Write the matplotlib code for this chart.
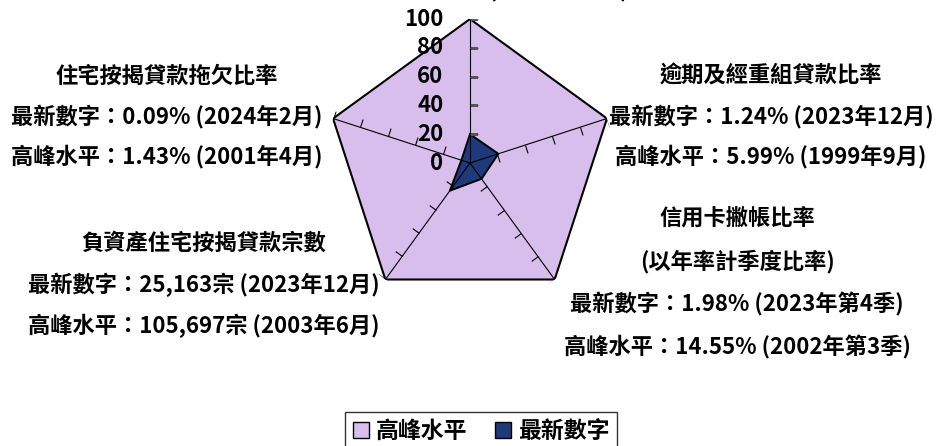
import numpy as np
import matplotlib
matplotlib.use("Agg")
import matplotlib.pyplot as plt
from matplotlib.markers import MarkerStyle
from matplotlib.path import Path
from matplotlib.transforms import Affine2D
from matplotlib.patches import Patch

plt.rcParams['font.family'] = ['Noto Sans CJK TC', 'DejaVu Sans']
plt.rcParams['font.weight'] = 'bold'

# axes clockwise from the top
angles_deg = [0, 72, 144, 216, 288]
peak = [100, 100, 100, 100, 100]
latest = [20.0, 20.7, 13.6, 23.8, 6.3]
rticks = [0, 20, 40, 60, 80, 100]
series_names = ["高峰水平", "最新數字"]
peak_color = "#D8BEEC"
latest_color = "#1F3A7B"

top_label = ["特定分類貸款比率", "高峰水平：10.61% (1999年9月)", "最新數字：2.12% (2023年12月)"]
right_label = ["逾期及經重組貸款比率", "最新數字：1.24% (2023年12月)", "高峰水平：5.99% (1999年9月)"]
brt_label = ["信用卡撇帳比率", "(以年率計季度比率)", "最新數字：1.98% (2023年第4季)", "高峰水平：14.55% (2002年第3季)"]
blf_label = ["負資產住宅按揭貸款宗數", "最新數字：25,163宗 (2023年12月)", "高峰水平：105,697宗 (2003年6月)"]
left_label = ["住宅按揭貸款拖欠比率", "最新數字：0.09% (2024年2月)", "高峰水平：1.43% (2001年4月)"]

W, H = 938, 446
fig = plt.figure(figsize=(W / 100, H / 100), dpi=100)
cx, cy, R = 470, 163, 144
ax = fig.add_axes([(cx - R) / W, (H - cy - R) / H, 2 * R / W, 2 * R / H], projection='polar')
ax.set_theta_offset(np.pi / 2)
ax.set_theta_direction(-1)
ax.set_ylim(0, 100)
ax.grid(False)
ax.spines['polar'].set_visible(False)
ax.patch.set_visible(False)
ax.set_xticks([])
ax.set_yticks([])

th = np.deg2rad(angles_deg)
th_c = np.append(th, th[0])
ax.fill(th_c, np.append(peak, peak[0]), facecolor=peak_color, edgecolor='black', lw=1.5, zorder=1)
ax.fill(th_c, np.append(latest, latest[0]), facecolor=latest_color, edgecolor='black', lw=1.4, zorder=3)
for a, ad in zip(th, angles_deg):
    ax.plot([a, a], [0, 100], color='black', lw=0.8, zorder=4)
    m = MarkerStyle(Path([[0, 0], [1, 0]]), transform=Affine2D().rotate_deg(-ad))
    ax.plot([a] * 5, rticks[1:], ls='none', marker=m, markersize=12,
            markeredgecolor='black' if ad else '#555555', markeredgewidth=0.8, zorder=4)

for r in rticks:
    ax.annotate(str(r), (0, r), xytext=(-19, 0), textcoords='offset points',
                ha='right', va='center', fontsize=16, fontweight='bold')


def put_label(lines, x, ys):
    for s, y in zip(lines, ys):
        fig.text(x / W, 1 - y / H, s, ha='center', va='center', fontsize=16, fontweight='bold')


put_label(top_label, 466, [-88, -49, -10])
put_label(right_label, 771, [76, 117, 156])
put_label(brt_label, 737, [218, 262, 304, 347])
put_label(blf_label, 204, [243, 285, 326])
put_label(left_label, 167, [76, 117, 156])

handles = [Patch(facecolor=peak_color, edgecolor='black', lw=1),
           Patch(facecolor=latest_color, edgecolor='black', lw=1)]
leg = fig.legend(handles, series_names, loc='upper center', bbox_to_anchor=(481 / W, 1 - 412 / H),
                 ncol=2, fancybox=False, edgecolor='#333333', framealpha=1, borderaxespad=0,
                 handlelength=0.7, handleheight=0.7, handletextpad=0.3, columnspacing=1.2,
                 borderpad=0.35, prop={'size': 16.5, 'weight': 'bold'})
leg.get_frame().set_linewidth(1.0)

fig.savefig("out.png", dpi=100)
